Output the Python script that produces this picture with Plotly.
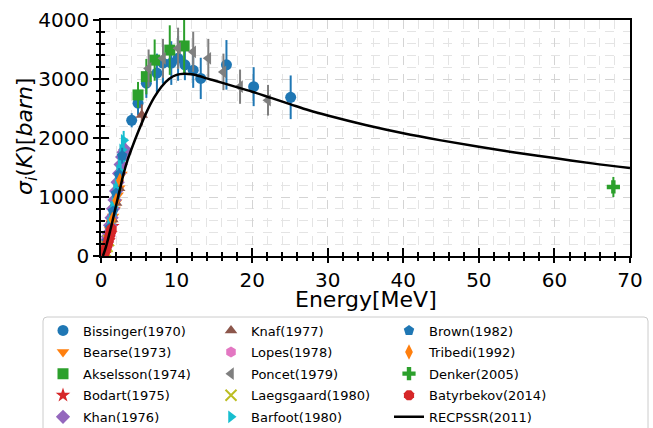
import plotly.graph_objects as go

# ---- data (energy in MeV, cross section in barn) ----
bissinger_e = [4.06, 4.9, 6.0, 7.4, 8.2, 9.3, 10.2, 11.1, 12.2, 13.2, 16.6, 20.2, 25.1]
bissinger_s = [2300, 2590, 2930, 3100, 3270, 3270, 3350, 3240, 3150, 3010, 3240, 2870, 2690]
bissinger_err = [120, 200, 250, 330, 350, 370, 380, 260, 300, 350, 420, 330, 370]

bearse_e = [0.6, 0.8, 1.0, 1.2, 1.4, 1.6, 1.8, 2.0, 2.2, 2.4, 2.7]
bearse_s = [140, 235, 335, 440, 555, 670, 790, 910, 1030, 1150, 1380]
bearse_err = [15, 20, 30, 40, 50, 60, 70, 80, 90, 100, 110]

akselsson_e = [4.9, 6.0, 7.1, 9.1, 11.0]
akselsson_s = [2730, 3040, 3320, 3490, 3560]
akselsson_err = [220, 300, 350, 420, 460]

bodart_e = [0.5, 0.75, 1.0, 1.25, 1.5]
bodart_s = [60, 150, 260, 380, 500]
bodart_err = [8, 15, 25, 35, 45]

khan_e = [0.5, 0.6, 0.7, 0.8, 0.9, 1.0, 1.2, 1.4, 1.6, 1.8, 2.0, 2.2, 2.4, 2.6, 2.8, 3.0, 3.2]
khan_s = [120, 170, 220, 270, 330, 390, 520, 650, 800, 950, 1100, 1250, 1400, 1550, 1680, 1760, 1800]
khan_err = [12, 17, 22, 27, 33, 39, 52, 65, 80, 95, 110, 125, 140, 155, 168, 176, 180]

knaf_e = [1.5, 2.0, 2.4, 5.4]
knaf_s = [620, 900, 1150, 2390]
knaf_err = [50, 70, 90, 180]

lopes_e = [0.5, 0.7, 0.9, 1.1, 1.3]
lopes_s = [70, 130, 200, 290, 380]
lopes_err = [7, 13, 20, 29, 38]

poncet_e = [6.3, 8.2, 10.2, 12.2, 14.2, 16.2, 18.4, 22.1]
poncet_s = [3180, 3350, 3520, 3460, 3350, 3120, 2870, 2640]
poncet_err = [320, 330, 350, 340, 330, 310, 290, 260]

laegsgaard_e = [0.3, 0.4, 0.5, 0.6, 0.8, 1.0]
laegsgaard_s = [10, 25, 50, 80, 160, 260]
laegsgaard_err = [2, 3, 5, 8, 16, 26]

barfoot_e = [1.2, 1.4, 1.6, 1.8, 2.0, 2.2, 2.4, 2.6, 2.8, 3.0]
barfoot_s = [560, 690, 830, 980, 1130, 1290, 1450, 1620, 1800, 1960]
barfoot_err = [45, 55, 65, 80, 90, 100, 115, 130, 145, 160]

brown_e = [0.8, 1.2, 1.6, 2.0, 2.4, 2.8]
brown_s = [250, 480, 760, 1060, 1380, 1700]
brown_err = [20, 40, 60, 85, 110, 135]

tribedi_e = [1.0, 1.5, 2.0, 2.5]
tribedi_s = [330, 620, 940, 1280]
tribedi_err = [30, 50, 75, 100]

denker_e = [67.8]
denker_s = [1170]
denker_err = [170]

batyrbekov_e = [0.4, 0.5, 0.6, 0.7, 0.8, 0.9, 1.0, 1.1, 1.2, 1.3, 1.4]
batyrbekov_s = [40, 70, 100, 140, 180, 220, 270, 320, 370, 420, 460]
batyrbekov_err = [4, 7, 10, 14, 18, 22, 27, 32, 37, 42, 46]

recpssr_e = [0.25, 0.5, 0.75, 1.0, 1.25, 1.5, 1.75, 2.0, 2.5, 3.0, 3.5, 4.0, 5.0, 6.0, 7.0,
             8.0, 9.0, 10, 11, 12, 13, 14, 15, 17.5, 20, 22.5, 25, 27.5, 30, 35, 40, 45,
             50, 55, 60, 65, 70]
recpssr_s = [0, 90, 200, 320, 450, 580, 720, 860, 1130, 1400, 1620, 1800, 2130, 2430, 2680,
             2870, 3000, 3070, 3090, 3080, 3050, 3010, 2975, 2880, 2785, 2680, 2575, 2470,
             2380, 2220, 2080, 1960, 1850, 1750, 1660, 1570, 1490]

FONT = "DejaVu Sans"
W, H = 653, 428

# name, x, y, err, colour, symbol, legend column
series = [
    ("Bissinger(1970)", bissinger_e, bissinger_s, bissinger_err, "#1f77b4", "circle", "legend"),
    ("Bearse(1973)", bearse_e, bearse_s, bearse_err, "#ff7f0e", "triangle-down", "legend"),
    ("Akselsson(1974)", akselsson_e, akselsson_s, akselsson_err, "#2ca02c", "square", "legend"),
    ("Bodart(1975)", bodart_e, bodart_s, bodart_err, "#d62728", "star", "legend"),
    ("Khan(1976)", khan_e, khan_s, khan_err, "#9467bd", "diamond", "legend"),
    ("Knaf(1977)", knaf_e, knaf_s, knaf_err, "#8c564b", "triangle-up", "legend2"),
    ("Lopes(1978)", lopes_e, lopes_s, lopes_err, "#e377c2", "hexagon", "legend2"),
    ("Poncet(1979)", poncet_e, poncet_s, poncet_err, "#7f7f7f", "triangle-left", "legend2"),
    ("Laegsgaard(1980)", laegsgaard_e, laegsgaard_s, laegsgaard_err, "#bcbd22", "x-thin-open", "legend2"),
    ("Barfoot(1980)", barfoot_e, barfoot_s, barfoot_err, "#17becf", "triangle-right", "legend2"),
    ("Brown(1982)", brown_e, brown_s, brown_err, "#1f77b4", "pentagon", "legend3"),
    ("Tribedi(1992)", tribedi_e, tribedi_s, tribedi_err, "#ff7f0e", "diamond-tall", "legend3"),
    ("Denker(2005)", denker_e, denker_s, denker_err, "#2ca02c", "cross", "legend3"),
    ("Batyrbekov(2014)", batyrbekov_e, batyrbekov_s, batyrbekov_err, "#d62728", "octagon", "legend3"),
]

fig = go.Figure()
for name, xs, ys, err, col, sym, leg in series:
    fig.add_trace(go.Scatter(
        x=xs, y=ys, mode="markers", name=name, legend=leg, legendgroup=name,
        marker=dict(color=col, symbol=sym, size=11,
                    line=dict(color=col, width=2 if sym == "x-thin-open" else 0)),
        error_y=dict(type="data", array=err, color=col, thickness=2, width=0),
    ))

fig.add_trace(go.Scatter(
    x=recpssr_e, y=recpssr_s, mode="lines", name="RECPSSR(2011)", legend="legend3",
    legendgroup="RECPSSR", line=dict(color="black", width=2.5, shape="spline"),
))

# invisible trace so the overlay axes (inward ticks) get drawn
fig.add_trace(go.Scatter(x=[0], y=[0], xaxis="x2", yaxis="y2", mode="markers",
                         marker=dict(opacity=0), showlegend=False, hoverinfo="skip"))

grid = dict(showgrid=True, gridcolor="#d4d4d4", griddash="dash", gridwidth=0.8)
tickfont = dict(family=FONT, size=20, color="black")

fig.update_layout(
    width=W, height=H,
    margin=dict(l=101, r=23, t=20, b=172, autoexpand=False),
    paper_bgcolor="white", plot_bgcolor="white",
    font=dict(family=FONT, color="black"),
    xaxis=dict(range=[0, 70], dtick=10, ticks="outside", ticklen=5, tickwidth=2,
               tickcolor="black", showline=True, linecolor="black", linewidth=1.5,
               mirror=True, tickfont=tickfont, zeroline=False,
               minor=dict(dtick=2, ticks="outside", ticklen=3, tickwidth=1.5,
                          tickcolor="black", gridcolor="#e4e4e4", griddash="dash",
                          showgrid=True),
               **grid),
    yaxis=dict(range=[0, 4000], dtick=1000, ticks="outside", ticklen=6, tickwidth=2,
               tickcolor="black", showline=True, linecolor="black", linewidth=1.5,
               mirror=True, tickfont=tickfont, zeroline=False,
               minor=dict(dtick=200, ticks="outside", ticklen=3, tickwidth=1.5,
                          tickcolor="black", gridcolor="#e4e4e4", griddash="dash",
                          showgrid=True),
               **grid),
    xaxis2=dict(overlaying="x", anchor="y", range=[0, 70], dtick=10, ticks="inside",
                ticklen=8, tickwidth=2, tickcolor="black", showticklabels=False,
                showgrid=False, zeroline=False, showline=False,
                minor=dict(dtick=2, ticks="inside", ticklen=4, tickwidth=1.5,
                           tickcolor="black")),
    yaxis2=dict(overlaying="y", anchor="x", range=[0, 4000], dtick=1000, ticks="inside",
                ticklen=8, tickwidth=2, tickcolor="black", showticklabels=False,
                showgrid=False, zeroline=False, showline=False,
                minor=dict(dtick=200, ticks="inside", ticklen=4, tickwidth=1.5,
                           tickcolor="black")),
    showlegend=True,
)

# paper coords of the 101..630 x 20..256 plot area
px = lambda v: (v - 101) / 529
py = lambda v: (256 - v) / 236

# axis titles as annotations (exact placement)
fig.add_annotation(text="Energy[MeV]", xref="paper", yref="paper", x=px(366), y=py(299),
                   xanchor="center", yanchor="middle", showarrow=False,
                   font=dict(family=FONT, size=22, color="black"))
fig.add_annotation(text="<i>σ<sub>i</sub></i>(<i>K</i>)[<i>barn</i>]", xref="paper",
                   yref="paper", x=px(26), y=py(137), xanchor="center", yanchor="middle",
                   textangle=-90, showarrow=False,
                   font=dict(family=FONT, size=22, color="black"))

leg_common = dict(orientation="v", yanchor="top", xanchor="left", xref="container",
                  yref="container", y=1 - 315.5 / H, tracegroupgap=1.7,
                  bgcolor="rgba(0,0,0,0)", borderwidth=0,
                  font=dict(family=FONT, size=13, color="black"))
fig.update_layout(
    legend=dict(x=43 / W, **leg_common),
    legend2=dict(x=211 / W, **leg_common),
    legend3=dict(x=389 / W, **leg_common),
)

# rounded frame around the three legend columns
x0, x1, y0, y1 = px(43), px(648), py(317), py(440)
rx, ry = px(47) - px(43), py(317) - py(321)
fig.add_shape(type="path", xref="paper", yref="paper", layer="below",
              path=f"M {x0+rx} {y0} L {x1-rx} {y0} Q {x1} {y0} {x1} {y0-ry} "
                   f"L {x1} {y1} L {x0} {y1} L {x0} {y0-ry} Q {x0} {y0} {x0+rx} {y0} Z",
              line=dict(color="#cccccc", width=1), fillcolor="rgba(255,255,255,0.8)")

# drop the default page margin so the figure sits at the window's top-left corner
fig.write_html("out.html", config={"displayModeBar": False},
               post_script="document.body.style.margin='0';")
